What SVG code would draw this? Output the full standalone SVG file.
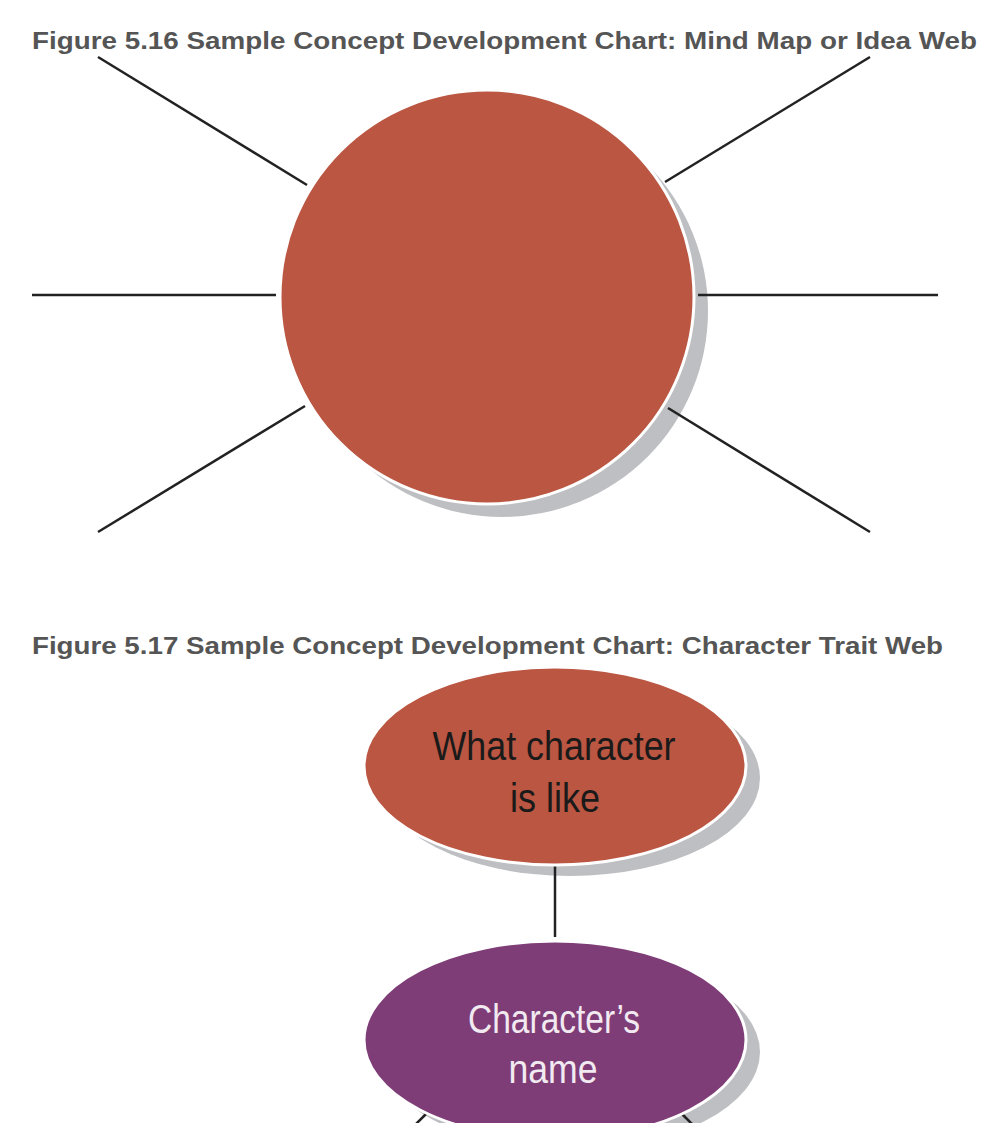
<svg xmlns="http://www.w3.org/2000/svg" width="1002" height="1143" viewBox="0 0 1002 1143">
<defs>
<style>
.title{font-family:"Liberation Sans",Arial,sans-serif;font-weight:bold;font-size:24px;fill:#555555}
.line{stroke:#222222;stroke-width:2.5;fill:none}
.shadow{fill:#BEBFC2}
.red{fill:#BA5641;stroke:#ffffff;stroke-width:3}
.purple{fill:#7F3D77;stroke:#ffffff;stroke-width:3}
.lbl{font-family:"Liberation Sans",Arial,sans-serif;font-size:41px;text-anchor:middle}
</style>
<clipPath id="clipb"><rect x="0" y="0" width="1002" height="1123"/></clipPath>
</defs>
<rect width="1002" height="1143" fill="#ffffff"/>
<text class="title" x="32" y="49" textLength="945" lengthAdjust="spacingAndGlyphs">Figure 5.16 Sample Concept Development Chart: Mind Map or Idea Web</text>
<circle class="shadow" cx="502" cy="311" r="206"/>
<g id="connectors1">
<line class="line" x1="98" y1="57" x2="307" y2="185"/>
<line class="line" x1="870" y1="57" x2="665" y2="182"/>
<line class="line" x1="32" y1="295" x2="276" y2="295"/>
<line class="line" x1="698" y1="295" x2="938" y2="295"/>
<line class="line" x1="98" y1="532" x2="305" y2="406"/>
<line class="line" x1="668" y1="408" x2="870" y2="532"/>
</g>
<g id="mindmap-center">
<circle class="red" cx="487" cy="297" r="207"/>
</g>
<text class="title" x="32" y="654" textLength="911" lengthAdjust="spacingAndGlyphs">Figure 5.17 Sample Concept Development Chart: Character Trait Web</text>
<g clip-path="url(#clipb)">
<ellipse class="shadow" cx="570" cy="778" rx="190" ry="98"/>
<ellipse class="shadow" cx="570" cy="1052" rx="190" ry="98"/>
<g id="connectors2">
<line class="line" x1="555" y1="866" x2="555" y2="937"/>
<line class="line" x1="426" y1="1114" x2="400" y2="1140"/>
<line class="line" x1="682" y1="1114" x2="708" y2="1140"/>
</g>
<g id="trait">
<ellipse class="red" cx="555" cy="766" rx="191" ry="99"/>
<text class="lbl" x="554" y="760" fill="#1a1a1a" textLength="243" lengthAdjust="spacingAndGlyphs">What character</text>
<text class="lbl" x="555" y="812" fill="#1a1a1a" textLength="90" lengthAdjust="spacingAndGlyphs">is like</text>
</g>
<g id="name">
<ellipse class="purple" cx="555" cy="1040" rx="191" ry="99"/>
<text class="lbl" x="554" y="1033" fill="#F2EAF1" textLength="172" lengthAdjust="spacingAndGlyphs">Character’s</text>
<text class="lbl" x="553" y="1083" fill="#F2EAF1" textLength="89" lengthAdjust="spacingAndGlyphs">name</text>
</g>
</g>
</svg>
